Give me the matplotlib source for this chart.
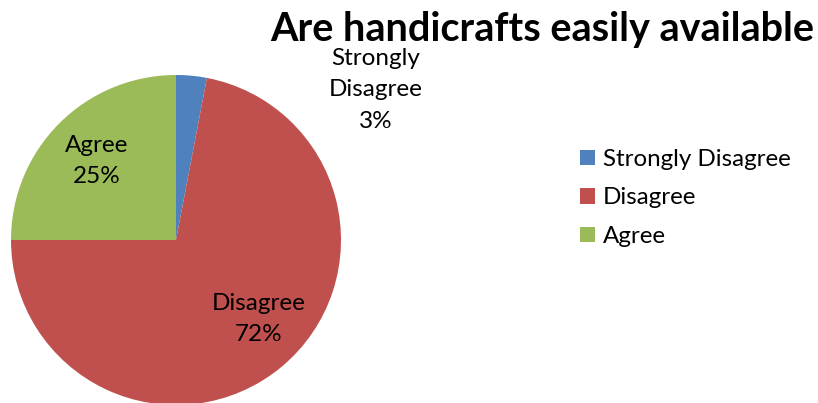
import matplotlib.pyplot as plt

# survey answers
categories = ['Strongly Disagree', 'Disagree', 'Agree']
shares = [3, 72, 25]
slice_labels = ['Strongly\nDisagree', 'Disagree', 'Agree']
colors = ['#4F81BD', '#C0504D', '#9BBB59']

plt.rcParams['font.family'] = ['Lato', 'DejaVu Sans']

W, H = 818, 403
fig = plt.figure(figsize=(W / 100, H / 100), dpi=100, facecolor='white')

# pie centre and radius in pixels
cx, cy, r = 176, 240, 165
ax = fig.add_axes([(cx - r) / W, (H - cy - r) / H, 2 * r / W, 2 * r / H])
wedges, _ = ax.pie(shares, colors=colors, startangle=90, counterclock=False,
                   radius=1, wedgeprops=dict(linewidth=0))
ax.set_xlim(-1, 1)
ax.set_ylim(-1, 1)
ax.set_aspect('equal')
for w in wedges:
    w.set_clip_on(False)

# label spots (data units of the pie axes)
label_pos = [(1.21, 0.91), (0.50, -0.48), (-0.48, 0.48)]
for lab, val, (x, y) in zip(slice_labels, shares, label_pos):
    ax.text(x, y, f'{lab}\n{val}%', ha='center', va='center', fontsize=17.5,
            linespacing=1.6, clip_on=False)

fig.text(814 / W, 1 - 30 / H, 'Are handicrafts easily available', ha='right',
         va='center', fontsize=28.5, fontweight='bold')

fig.legend(wedges, categories, loc='upper left', bbox_to_anchor=(580 / W, 1 - 149 / H),
           frameon=False, fontsize=17.4, handlelength=0.6, handleheight=0.6,
           handletextpad=0.35, labelspacing=0.72, borderpad=0, borderaxespad=0)

fig.savefig('out.png', dpi=100)
